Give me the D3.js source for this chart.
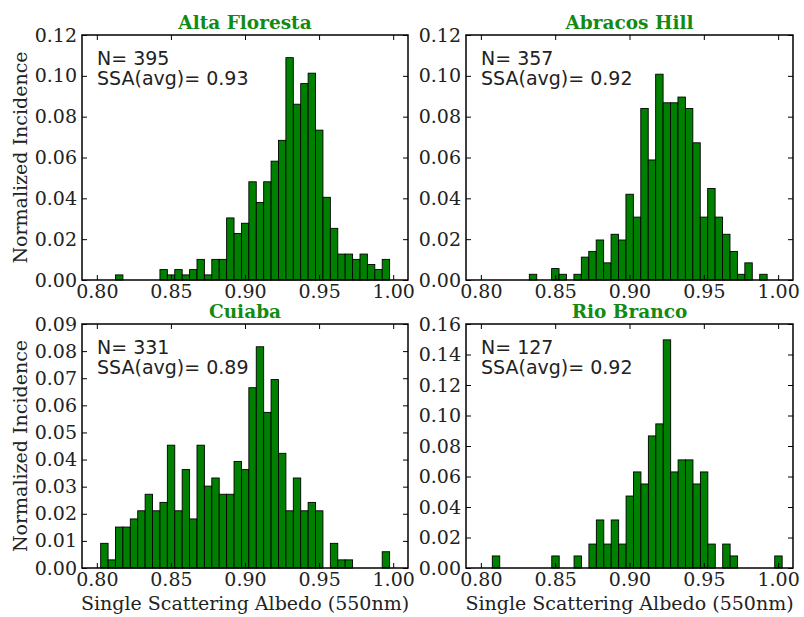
<!DOCTYPE html>
<html>
<head>
<meta charset="utf-8">
<script src="https://cdn.jsdelivr.net/npm/d3@7"></script>
<style>
  html, body { margin: 0; padding: 0; background: #ffffff; }
  svg { display: block; }
</style>
</head>
<body>
<svg id="chart" width="804" height="617"></svg>
<script>
// ---------------- data ----------------
const stations = ["Alta Floresta", "Abracos Hill", "Cuiaba", "Rio Branco"];
const nObs = [395, 357, 331, 127];
const ssaAvg = ["0.93", "0.92", "0.89", "0.92"];
const binStart = [0.8126, 0.8326, 0.8026, 0.8077];
const binWidth = 0.005;

const altaFloresta = [0.0025,0,0,0,0,0,0.0051,0.0025,0.0051,0.0025,0.0051,0.0101,0.0025,0.0101,0.0101,0.0304,0.0228,0.0278,0.0481,0.0380,0.0481,0.0582,0.0684,0.1089,0.0861,0.0962,0.1013,0.0734,0.0405,0.0253,0.0127,0.0127,0.0101,0.0127,0.0076,0.0051,0.0101];
const abracosHill = [0.0028,0,0,0.0056,0.0028,0,0.0028,0.0112,0.0140,0.0196,0.0084,0.0224,0.0196,0.0420,0.0308,0.0840,0.0588,0.1008,0.0868,0.0868,0.0896,0.0840,0.0672,0.0308,0.0448,0.0308,0.0224,0.0140,0.0028,0.0084,0,0.0028];
const cuiaba = [0.0091,0.0030,0.0151,0.0151,0.0181,0.0211,0.0272,0.0211,0.0242,0.0453,0.0211,0.0363,0.0181,0.0453,0.0302,0.0332,0.0272,0.0272,0.0393,0.0363,0.0665,0.0816,0.0574,0.0695,0.0423,0.0211,0.0332,0.0211,0.0242,0.0211,0,0.0091,0.0030,0.0030,0,0,0,0,0.0060];
const rioBranco = [0.0079,0,0,0,0,0,0,0,0.0079,0,0,0.0079,0,0.0157,0.0315,0.0157,0.0315,0.0157,0.0472,0.0630,0.0551,0.0866,0.0945,0.1496,0.0630,0.0709,0.0709,0.0551,0.0630,0.0157,0,0.0157,0.0079,0,0,0,0,0,0.0079];

const xTicks = [0.80, 0.85, 0.90, 0.95, 1.00];
const yTicksA = [0.00, 0.02, 0.04, 0.06, 0.08, 0.10, 0.12];
const yTicksB = [0.00, 0.02, 0.04, 0.06, 0.08, 0.10, 0.12];
const yTicksC = [0.00, 0.01, 0.02, 0.03, 0.04, 0.05, 0.06, 0.07, 0.08, 0.09];
const yTicksD = [0.00, 0.02, 0.04, 0.06, 0.08, 0.10, 0.12, 0.14, 0.16];
const xDomain = [0.79, 1.01];

const xLabel = "Single Scattering Albedo (550nm)";
const yLabel = "Normalized Incidence";

// ---------------- layout ----------------
const series = [altaFloresta, abracosHill, cuiaba, rioBranco];
const yTickSets = [yTicksA, yTicksB, yTicksC, yTicksD];
const boxes = [
  {x0: 82,  x1: 408, y0: 35,  y1: 280},
  {x0: 466, x1: 793, y0: 35,  y1: 280},
  {x0: 82,  x1: 408, y0: 324, y1: 568},
  {x0: 466, x1: 793, y0: 324, y1: 568}
];
const serif = "'DejaVu Serif', serif";
const sans = "'DejaVu Sans', sans-serif";
const barFill = "#008000";
const titleColor = "#138a13";
const tickLen = 5;

const svg = d3.select("#chart");

series.forEach((vals, i) => {
  const b = boxes[i];
  const yT = yTickSets[i];
  const x = d3.scaleLinear().domain(xDomain).range([b.x0, b.x1]);
  const y = d3.scaleLinear().domain([0, yT[yT.length - 1]]).range([b.y1, b.y0]);
  const g = svg.append("g");

  const bins = vals.map((v, k) => ({x0: binStart[i] + k * binWidth, x1: binStart[i] + (k + 1) * binWidth, v}))
                   .filter(d => d.v > 0);

  g.selectAll("rect.bar").data(bins).enter().append("rect")
    .attr("class", "bar")
    .attr("x", d => x(d.x0))
    .attr("width", d => x(d.x1) - x(d.x0))
    .attr("y", d => y(d.v))
    .attr("height", d => y(0) - y(d.v))
    .attr("fill", barFill)
    .attr("stroke", "#000")
    .attr("stroke-width", 0.9);

  // axes (ticks inward, on all four sides)
  const fmt = d3.format(".2f");
  const bottom = d3.axisBottom(x).tickValues(xTicks).tickFormat(fmt).tickSizeInner(-tickLen).tickSizeOuter(0).tickPadding(5);
  const top = d3.axisTop(x).tickValues(xTicks).tickFormat("").tickSizeInner(-tickLen).tickSizeOuter(0);
  const left = d3.axisLeft(y).tickValues(yT).tickFormat(fmt).tickSizeInner(-tickLen).tickSizeOuter(0).tickPadding(5);
  const right = d3.axisRight(y).tickValues(yT).tickFormat("").tickSizeInner(-tickLen).tickSizeOuter(0);

  const styleAxis = sel => {
    sel.select(".domain").remove();
    sel.selectAll(".tick line").attr("stroke", "#000").attr("stroke-width", 1);
    sel.selectAll(".tick text").attr("font-family", serif).attr("font-size", 19).attr("fill", "#222");
  };
  g.append("g").attr("transform", `translate(0,${b.y1})`).call(bottom).call(styleAxis);
  g.append("g").attr("transform", `translate(0,${b.y0})`).call(top).call(styleAxis);
  g.append("g").attr("transform", `translate(${b.x0},0)`).call(left).call(styleAxis);
  g.append("g").attr("transform", `translate(${b.x1},0)`).call(right).call(styleAxis);

  g.append("rect")
    .attr("x", b.x0).attr("y", b.y0)
    .attr("width", b.x1 - b.x0).attr("height", b.y1 - b.y0)
    .attr("fill", "none").attr("stroke", "#000").attr("stroke-width", 1.5);

  // title
  g.append("text")
    .attr("x", (b.x0 + b.x1) / 2).attr("y", b.y0 - 6)
    .attr("text-anchor", "middle")
    .attr("font-family", serif).attr("font-weight", "bold").attr("font-size", 18.5)
    .attr("fill", titleColor)
    .text(stations[i]);

  // annotations
  g.append("text").attr("x", b.x0 + 15).attr("y", b.y0 + 30)
    .attr("font-family", sans).attr("font-size", 19).attr("fill", "#222")
    .text("N= " + nObs[i]);
  g.append("text").attr("x", b.x0 + 15).attr("y", b.y0 + 50)
    .attr("font-family", sans).attr("font-size", 19).attr("fill", "#222")
    .text("SSA(avg)= " + ssaAvg[i]);

  // axis labels
  if (i % 2 === 0) {
    g.append("text")
      .attr("transform", `translate(27,${(b.y0 + b.y1) / 2}) rotate(-90)`)
      .attr("text-anchor", "middle")
      .attr("font-family", serif).attr("font-size", 19).attr("fill", "#222")
      .text(yLabel);
  }
  if (i >= 2) {
    g.append("text")
      .attr("x", (b.x0 + b.x1) / 2).attr("y", 610)
      .attr("text-anchor", "middle")
      .attr("font-family", serif).attr("font-size", 19).attr("fill", "#222")
      .text(xLabel);
  }
});
</script>
</body>
</html>
